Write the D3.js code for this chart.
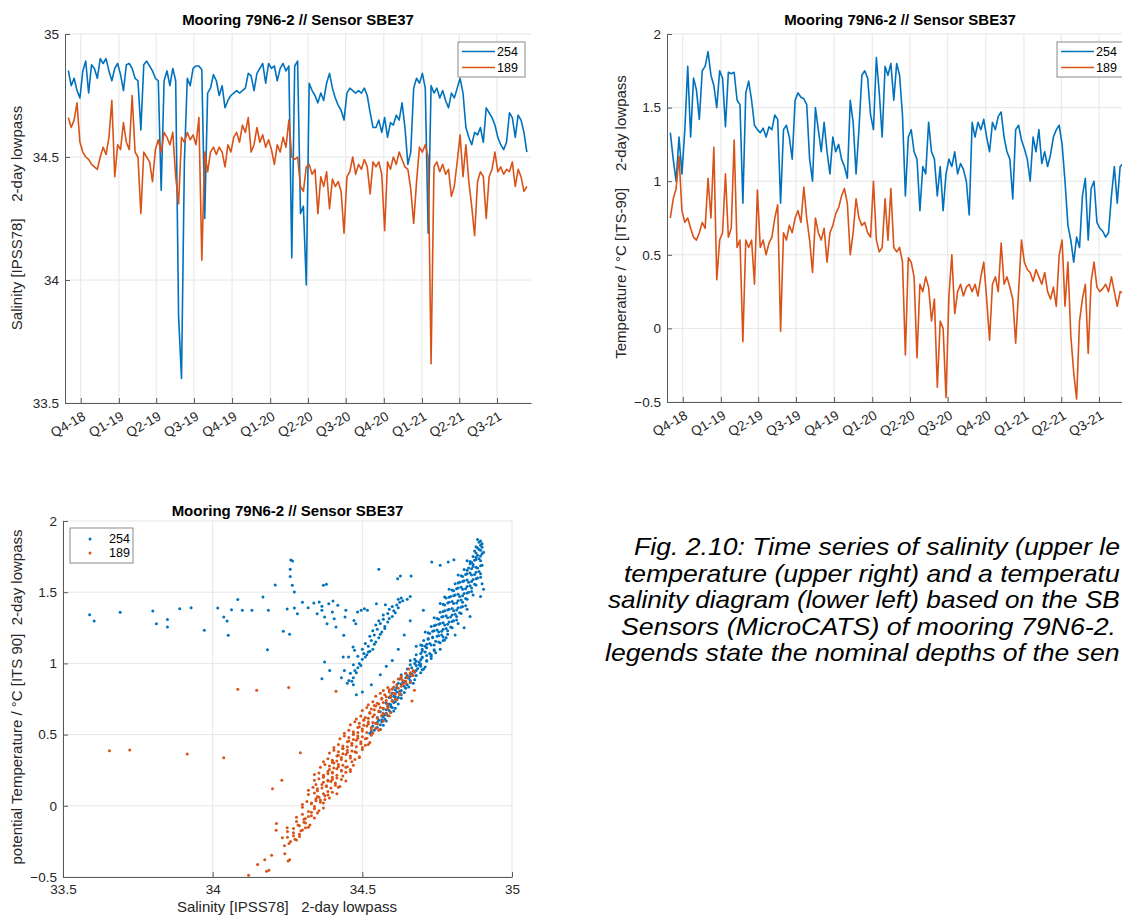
<!DOCTYPE html>
<html><head><meta charset="utf-8">
<script src="https://cdn.jsdelivr.net/npm/d3@7"></script>
<style>
body{margin:0;background:#fff;}
svg{display:block;font-family:"Liberation Sans",Arial,Helvetica,sans-serif;}
</style></head><body>
<svg id="c" width="1122" height="915"></svg>
<script>
// ---------- DATA ----------
const seriesNames = ["254", "189"];
const quarterLabels = ["Q4-18","Q1-19","Q2-19","Q3-19","Q4-19","Q1-20","Q2-20","Q3-20","Q4-20","Q1-21","Q2-21","Q3-21"];
const quarterDates = ["2018-10-01","2019-01-01","2019-04-01","2019-07-01","2019-10-01","2020-01-01","2020-04-01","2020-07-01","2020-10-01","2021-01-01","2021-04-01","2021-07-01"];
const timeDomain = ["2018-08-24","2021-09-21"];
const sampleStart = "2018-09-01";   // weekly samples
const sampleStepDays = 7;

const sal254 = [34.851,34.79,34.82,34.77,34.74,34.85,34.89,34.76,34.875,34.86,34.82,34.90,34.88,34.90,34.85,34.81,34.86,34.88,34.835,34.77,34.875,34.88,34.86,34.82,34.81,34.61,34.875,34.89,34.87,34.85,34.82,34.81,34.365,34.81,34.85,34.79,34.86,34.81,33.85,33.6,34.485,34.82,34.79,34.86,34.87,34.87,34.855,34.25,34.76,34.78,34.835,34.81,34.75,
34.79,34.70,34.73,34.75,34.76,34.77,34.76,34.77,34.78,34.84,34.83,34.77,34.84,34.86,34.88,34.80,34.88,34.86,34.87,34.81,34.86,34.88,34.85,34.87,34.09,34.87,34.89,34.27,34.30,33.98,34.80,34.77,34.75,34.72,34.76,34.73,34.80,34.84,34.78,34.74,34.71,34.69,34.65,34.76,34.78,34.77,34.76,34.77,34.76,34.78,34.75,34.68,34.62,
34.62,34.65,34.60,34.66,34.58,34.64,34.63,34.67,34.65,34.72,34.62,34.47,34.52,34.78,34.82,34.80,34.84,34.78,34.19,34.79,34.76,34.78,34.74,34.77,34.73,34.70,34.76,34.74,34.78,34.82,34.76,34.62,34.58,34.55,34.60,34.59,34.62,34.56,34.70,34.68,34.66,34.63,34.58,34.55,34.53,34.56,34.68,34.66,34.58,34.67,34.65,34.60,34.52];
const sal189 = [34.66,34.62,34.65,34.72,34.56,34.52,34.50,34.49,34.47,34.46,34.45,34.50,34.54,34.51,34.58,34.73,34.42,34.55,34.53,34.64,34.56,34.53,34.75,34.52,34.50,34.27,34.52,34.50,34.48,34.40,34.53,34.57,34.52,34.60,34.58,34.55,34.60,34.42,34.31,34.58,34.56,34.60,34.57,34.59,34.55,34.66,34.08,34.52,34.44,34.52,34.54,34.51,34.54,
34.52,34.46,34.55,34.52,34.58,34.60,34.56,34.63,34.60,34.66,34.52,34.55,34.62,34.56,34.59,34.54,34.57,34.53,34.47,34.55,34.52,34.58,34.54,34.65,34.50,34.49,34.50,34.38,34.36,34.46,34.47,34.43,34.45,34.27,34.42,34.38,34.44,34.29,34.41,34.38,34.40,34.36,34.19,34.42,34.44,34.50,34.43,34.47,34.45,34.49,34.46,34.35,34.48,
34.46,34.48,34.43,34.20,34.48,34.45,34.50,34.47,34.52,34.49,34.46,34.45,34.37,34.23,34.40,34.54,34.52,34.55,34.50,33.66,34.46,34.48,34.44,34.47,34.43,34.45,34.34,34.38,34.48,34.59,34.42,34.55,34.40,34.30,34.18,34.40,34.44,34.42,34.25,34.42,34.45,34.52,34.44,34.46,34.43,34.45,34.44,34.48,34.38,34.45,34.42,34.36,34.38];
const temp254 = [1.33,1.15,1.00,1.30,1.05,1.35,1.78,1.30,1.70,1.62,1.42,1.75,1.78,1.88,1.72,1.65,1.50,1.75,1.70,1.37,1.74,1.73,1.74,1.55,1.52,0.85,1.60,1.68,1.55,1.38,1.35,1.33,1.36,1.30,1.37,1.35,1.45,1.42,0.85,1.35,1.38,1.30,1.15,1.55,1.60,1.57,1.56,1.52,1.15,1.00,1.50,1.35,
1.20,1.40,1.20,1.05,1.30,1.20,1.25,1.15,1.10,1.02,1.55,1.40,1.05,1.35,1.72,1.75,1.70,1.45,1.35,1.84,1.60,1.30,1.78,1.72,1.80,1.55,1.80,1.72,1.45,0.90,1.30,1.35,1.20,1.15,0.80,1.10,1.05,1.40,1.20,1.15,0.90,1.10,0.80,1.05,1.15,1.10,1.20,1.05,1.12,1.08,1.00,0.77,1.40,
1.30,1.40,1.35,1.42,1.30,1.20,1.40,1.35,1.44,1.47,1.30,1.20,1.15,0.88,1.35,1.38,1.28,1.22,1.15,1.00,1.30,1.20,1.35,1.12,1.20,1.10,1.18,1.30,1.35,1.38,1.25,1.00,0.70,0.60,0.45,0.62,0.55,0.90,1.02,0.60,0.95,1.00,0.72,0.68,0.66,0.62,0.65,0.90,1.10,0.85,1.10,1.12,1.05,1.00];
const temp189 = [0.75,0.88,0.95,1.17,0.80,0.72,0.75,0.68,0.62,0.60,0.65,0.72,0.68,1.02,0.75,1.23,0.33,0.60,0.65,1.05,0.62,0.68,1.28,0.55,0.60,-0.09,0.60,0.55,0.60,0.30,0.94,0.55,0.60,0.50,0.58,0.62,0.75,0.84,-0.02,0.65,0.60,0.70,0.65,0.75,0.80,0.72,0.96,0.75,0.60,0.38,0.75,0.65,
0.60,0.68,0.45,0.65,0.70,0.78,0.82,0.90,0.95,0.85,0.50,0.65,0.88,0.75,0.70,0.72,0.65,0.62,1.00,0.60,0.52,0.55,0.88,0.60,0.95,0.55,0.52,0.55,0.45,-0.18,0.48,0.45,0.35,-0.20,0.30,0.25,0.35,0.28,0.05,0.20,-0.40,0.05,0.00,-0.47,0.22,0.50,0.10,0.25,0.30,0.22,0.28,0.30,0.25,
0.30,0.22,0.35,0.45,0.20,-0.08,0.30,0.35,0.25,0.58,0.30,0.35,0.28,0.20,-0.10,0.25,0.60,0.45,0.40,0.38,0.32,0.40,0.35,0.30,0.38,0.25,0.20,0.28,0.15,0.50,0.60,0.15,0.45,-0.05,-0.30,-0.48,0.05,0.20,0.30,-0.17,0.32,0.45,0.28,0.25,0.27,0.30,0.25,0.35,0.25,0.15,0.25,0.24,0.26,0.22];

const salTicks = [33.5, 34, 34.5, 35];
const tempTicks = [-0.5, 0, 0.5, 1, 1.5, 2];

// T-S scatter points [salinity, potential temperature]
const ts254 = [
[34.525,0.51],[34.54,0.53],[34.535,0.56],[34.55,0.55],[34.545,0.58],[34.56,0.57],[34.555,0.60],[34.565,0.59],
[34.55,0.62],[34.565,0.63],[34.575,0.61],[34.56,0.66],[34.58,0.65],[34.57,0.68],[34.59,0.67],[34.60,0.69],[34.585,0.70],[34.575,0.64],
[34.58,0.72],[34.595,0.71],[34.60,0.74],[34.61,0.73],[34.59,0.76],[34.605,0.77],[34.62,0.76],[34.60,0.79],[34.615,0.80],[34.63,0.78],
[34.60,0.82],[34.615,0.83],[34.63,0.81],[34.64,0.84],[34.62,0.86],[34.635,0.87],[34.65,0.85],[34.625,0.89],[34.645,0.90],[34.66,0.88],[34.67,0.86],
[34.63,0.92],[34.645,0.93],[34.66,0.91],[34.675,0.94],[34.65,0.96],[34.665,0.97],[34.68,0.95],[34.695,0.98],[34.66,0.99],[34.675,1.00],[34.69,0.99],[34.705,0.96],
[34.66,1.02],[34.675,1.03],[34.69,1.01],[34.70,1.04],[34.715,1.02],[34.73,1.05],[34.68,1.06],[34.695,1.07],[34.71,1.08],[34.725,1.07],[34.74,1.09],[34.70,1.10],[34.715,1.11],
[34.68,1.12],[34.695,1.13],[34.71,1.12],[34.725,1.14],[34.74,1.13],[34.755,1.15],[34.77,1.16],[34.705,1.16],[34.72,1.17],[34.735,1.18],[34.75,1.19],[34.765,1.20],[34.78,1.18],
[34.71,1.22],[34.725,1.21],[34.74,1.23],[34.755,1.22],[34.77,1.24],[34.785,1.23],[34.80,1.25],[34.73,1.26],[34.745,1.27],[34.76,1.28],[34.775,1.27],[34.79,1.29],[34.805,1.30],[34.82,1.28],
[34.74,1.32],[34.755,1.31],[34.77,1.33],[34.785,1.32],[34.80,1.34],[34.815,1.33],[34.83,1.35],[34.76,1.36],[34.775,1.37],[34.79,1.38],[34.805,1.37],[34.82,1.39],[34.835,1.40],[34.85,1.38],
[34.76,1.42],[34.775,1.41],[34.79,1.43],[34.805,1.42],[34.82,1.44],[34.835,1.43],[34.85,1.45],[34.78,1.46],[34.795,1.47],[34.81,1.48],[34.825,1.47],[34.84,1.49],[34.855,1.50],[34.87,1.48],
[34.79,1.52],[34.805,1.51],[34.82,1.53],[34.835,1.52],[34.85,1.54],[34.865,1.53],[34.88,1.55],[34.81,1.56],[34.825,1.57],[34.84,1.58],[34.855,1.57],[34.87,1.59],[34.885,1.60],[34.90,1.56],
[34.82,1.62],[34.835,1.61],[34.85,1.63],[34.865,1.62],[34.88,1.64],[34.895,1.63],[34.84,1.66],[34.855,1.67],[34.87,1.68],[34.885,1.67],[34.90,1.69],[34.86,1.70],
[34.85,1.72],[34.865,1.71],[34.88,1.73],[34.895,1.72],[34.87,1.75],[34.885,1.76],[34.90,1.77],[34.875,1.79],[34.89,1.80],[34.905,1.78],
[34.88,1.82],[34.895,1.83],[34.89,1.85],[34.885,1.87],[34.90,1.84],[34.905,1.52],[34.895,1.47],[34.84,1.25],[34.86,1.33],[34.81,1.20],
[34.53,0.52],[34.545,0.545],[34.56,0.535],[34.57,0.565],[34.55,0.585],[34.565,0.605],[34.58,0.595],
[34.57,0.625],[34.585,0.635],[34.595,0.655],[34.58,0.675],[34.605,0.665],[34.595,0.695],[34.61,0.685],
[34.59,0.715],[34.605,0.725],[34.62,0.715],[34.615,0.745],[34.63,0.755],[34.61,0.765],[34.625,0.785],[34.64,0.795],
[34.61,0.815],[34.625,0.805],[34.645,0.825],[34.655,0.835],[34.63,0.855],[34.66,0.865],[34.64,0.875],[34.655,0.895],[34.675,0.885],
[34.65,0.915],[34.665,0.925],[34.68,0.915],[34.695,0.935],[34.67,0.945],[34.70,0.955],[34.685,0.965],[34.71,0.975],[34.68,0.985],[34.695,0.995],
[34.68,1.015],[34.695,1.025],[34.715,1.015],[34.73,1.035],[34.70,1.045],[34.715,1.055],[34.73,1.06],[34.745,1.075],[34.70,1.085],[34.74,1.095],[34.76,1.10],
[34.70,1.125],[34.715,1.135],[34.73,1.13],[34.745,1.155],[34.76,1.145],[34.775,1.165],[34.72,1.175],[34.735,1.185],[34.755,1.195],[34.77,1.185],[34.785,1.205],
[34.72,1.215],[34.735,1.225],[34.75,1.235],[34.765,1.225],[34.78,1.245],[34.795,1.255],[34.74,1.265],[34.755,1.275],[34.77,1.285],[34.785,1.275],[34.80,1.295],[34.815,1.305],
[34.75,1.315],[34.765,1.325],[34.78,1.335],[34.795,1.325],[34.81,1.345],[34.825,1.355],[34.77,1.365],[34.785,1.375],[34.80,1.385],[34.815,1.375],[34.83,1.395],[34.845,1.405],
[34.77,1.415],[34.785,1.425],[34.80,1.435],[34.815,1.425],[34.83,1.445],[34.845,1.455],[34.79,1.465],[34.805,1.475],[34.82,1.485],[34.835,1.475],[34.85,1.495],[34.865,1.505],
[34.80,1.515],[34.815,1.525],[34.83,1.535],[34.845,1.525],[34.86,1.545],[34.875,1.555],[34.82,1.565],[34.835,1.575],[34.85,1.585],[34.865,1.575],[34.88,1.595],[34.895,1.605],
[34.83,1.615],[34.845,1.625],[34.86,1.635],[34.875,1.625],[34.89,1.645],[34.85,1.655],[34.865,1.665],[34.88,1.675],[34.895,1.685],[34.87,1.695],
[34.86,1.715],[34.875,1.725],[34.89,1.735],[34.88,1.745],[34.895,1.755],[34.88,1.775],[34.895,1.795],[34.885,1.81],[34.90,1.815],[34.895,1.86],
[34.45,0.86],[34.455,0.88],[34.47,0.90],[34.46,0.93],[34.475,0.95],[34.485,0.97],[34.47,0.99],[34.49,1.00],[34.50,1.03],[34.485,1.05],[34.505,1.07],[34.515,1.06],[34.50,1.10],[34.52,1.12],[34.535,1.10],[34.51,1.14],[34.53,1.16],[34.545,1.15],[34.525,1.19],[34.54,1.20],[34.555,1.18],[34.535,1.23],[34.55,1.24],[34.565,1.22],[34.545,1.27],[34.56,1.28],[34.575,1.26],[34.555,1.30],[34.57,1.31],[34.585,1.29],[34.57,1.34],[34.585,1.35],[34.60,1.33],[34.59,1.38],[34.605,1.37],[34.60,1.40],[34.615,1.41],[34.625,1.43],[34.62,1.45],[34.635,1.44],[34.63,1.46],[34.65,1.45],[34.66,1.47],
[34.465,0.875],[34.48,0.935],[34.495,0.985],[34.51,1.045],[34.525,1.085],[34.54,1.135],[34.56,1.205],[34.575,1.245],[34.59,1.315],[34.61,1.355],[34.62,1.39],
[34.62,1.10],[34.64,1.20],[34.60,1.02],[34.66,1.30],[34.58,0.98],[34.56,0.92],[34.53,0.85],[34.50,0.80],[34.48,0.78],[34.43,0.90],[34.44,0.95],[34.52,1.08],[34.47,0.85],
[33.589,1.342],[33.604,1.298],[33.691,1.359],[33.80,1.368],[33.812,1.279],[33.849,1.309],[33.849,1.256],[33.890,1.384],[33.928,1.391],[33.972,1.232],[34.017,1.389],[34.037,1.326],[34.048,1.298],[34.052,1.197],[34.063,1.377],[34.084,1.448],[34.099,1.373],[34.131,1.373],[34.168,1.466],[34.183,1.096],[34.186,1.373],[34.209,1.551],[34.236,1.225],[34.249,1.382],[34.257,1.204],[34.259,1.661],[34.261,1.726],[34.267,1.719],[34.259,1.611],[34.266,1.548],[34.273,1.501],[34.273,1.389],[34.283,1.349],[34.300,1.429],[34.319,1.391],[34.338,1.424],[34.349,1.349],[34.356,1.431],[34.365,1.401],[34.370,1.548],[34.380,1.555],[34.365,1.373],[34.374,1.326],[34.382,1.279],[34.388,1.419],[34.402,1.438],[34.406,1.314],[34.412,1.256],[34.418,1.408],[34.400,1.361],[34.374,1.010],[34.365,0.893],[34.391,0.951],[34.438,1.197],[34.442,1.326],[34.445,1.373],[34.436,1.045],[34.454,1.045],[34.469,1.115],[34.474,1.092],[34.478,1.279],[34.484,1.361],[34.496,1.373],[34.507,1.384],[34.517,1.373],[34.472,1.302],[34.555,1.661],[34.547,1.419],[34.577,1.412],[34.618,1.595],[34.627,1.614],[34.663,1.614],[34.732,1.712],[34.760,1.689],[34.787,1.712],[34.806,1.728],[34.704,1.373],[34.775,1.466]
];
const ts189 = [
[34.24,-0.28],[34.26,-0.25],[34.25,-0.22],[34.27,-0.21],[34.28,-0.24],[34.29,-0.20],
[34.25,-0.18],[34.27,-0.16],[34.29,-0.14],[34.30,-0.17],[34.31,-0.12],[34.28,-0.11],[34.32,-0.15],
[34.28,-0.08],[34.30,-0.06],[34.31,-0.09],[34.32,-0.04],[34.33,-0.07],[34.34,-0.02],[34.30,-0.01],[34.35,-0.05],
[34.30,0.01],[34.315,0.03],[34.33,0.02],[34.345,0.05],[34.36,0.04],[34.375,0.07],[34.32,0.08],[34.34,0.09],[34.355,0.06],[34.385,0.10],[34.37,0.02],
[34.32,0.11],[34.335,0.13],[34.35,0.12],[34.365,0.15],[34.38,0.14],[34.395,0.17],[34.41,0.16],[34.34,0.18],[34.355,0.19],[34.37,0.20],[34.385,0.18],[34.40,0.20],[34.42,0.13],[34.345,0.15],
[34.34,0.22],[34.355,0.23],[34.37,0.21],[34.385,0.24],[34.40,0.23],[34.415,0.26],[34.43,0.25],[34.445,0.27],[34.36,0.27],[34.375,0.29],[34.39,0.28],[34.405,0.30],[34.42,0.29],[34.46,0.24],[34.435,0.21],
[34.37,0.31],[34.385,0.33],[34.40,0.32],[34.415,0.35],[34.43,0.34],[34.445,0.36],[34.46,0.35],[34.475,0.38],[34.39,0.37],[34.405,0.39],[34.42,0.38],[34.435,0.40],[34.45,0.39],[34.49,0.34],[34.465,0.31],
[34.405,0.41],[34.42,0.43],[34.435,0.42],[34.45,0.45],[34.465,0.44],[34.48,0.46],[34.495,0.45],[34.51,0.47],[34.425,0.47],[34.44,0.49],[34.455,0.48],[34.47,0.50],[34.485,0.49],[34.52,0.43],[34.50,0.41],
[34.44,0.51],[34.455,0.53],[34.47,0.52],[34.485,0.55],[34.50,0.54],[34.515,0.56],[34.53,0.55],[34.545,0.58],[34.46,0.57],[34.475,0.59],[34.49,0.58],[34.505,0.60],[34.52,0.59],[34.555,0.53],[34.535,0.51],
[34.48,0.61],[34.495,0.63],[34.51,0.62],[34.525,0.65],[34.54,0.64],[34.555,0.66],[34.57,0.65],[34.585,0.68],[34.50,0.67],[34.515,0.69],[34.53,0.68],[34.545,0.70],[34.56,0.69],[34.59,0.63],
[34.52,0.71],[34.535,0.73],[34.55,0.72],[34.565,0.75],[34.58,0.74],[34.595,0.76],[34.61,0.75],[34.625,0.78],[34.545,0.77],[34.56,0.79],[34.575,0.78],[34.59,0.80],[34.605,0.79],
[34.57,0.81],[34.585,0.83],[34.60,0.82],[34.615,0.85],[34.63,0.84],[34.645,0.86],[34.605,0.87],[34.62,0.89],[34.635,0.88],[34.65,0.90],[34.66,0.87],
[34.63,0.91],[34.645,0.93],[34.66,0.92],[34.67,0.95],[34.655,0.96],[34.675,0.94],
[34.255,-0.265],[34.275,-0.235],[34.29,-0.215],[34.27,-0.19],[34.295,-0.175],[34.31,-0.155],[34.285,-0.135],[34.305,-0.115],[34.325,-0.135],
[34.305,-0.095],[34.32,-0.075],[34.34,-0.085],[34.33,-0.045],[34.355,-0.035],[34.37,-0.015],[34.34,-0.005],
[34.33,0.015],[34.345,0.035],[34.36,0.025],[34.375,0.045],[34.39,0.055],[34.35,0.065],[34.37,0.085],[34.385,0.075],[34.40,0.095],[34.415,0.085],
[34.35,0.105],[34.365,0.125],[34.38,0.135],[34.395,0.125],[34.41,0.145],[34.425,0.135],[34.37,0.165],[34.385,0.175],[34.40,0.185],[34.415,0.195],[34.43,0.185],[34.445,0.175],
[34.37,0.215],[34.385,0.225],[34.40,0.235],[34.415,0.215],[34.43,0.245],[34.445,0.235],[34.46,0.255],[34.39,0.255],[34.405,0.265],[34.42,0.275],[34.435,0.285],[34.45,0.275],[34.47,0.285],
[34.40,0.305],[34.415,0.315],[34.43,0.325],[34.445,0.315],[34.46,0.335],[34.475,0.325],[34.49,0.345],[34.42,0.355],[34.435,0.365],[34.45,0.375],[34.465,0.385],[34.48,0.375],[34.50,0.395],
[34.435,0.405],[34.45,0.415],[34.465,0.425],[34.48,0.415],[34.495,0.435],[34.51,0.425],[34.525,0.445],[34.455,0.455],[34.47,0.465],[34.485,0.475],[34.50,0.485],[34.515,0.475],[34.53,0.495],
[34.47,0.505],[34.485,0.515],[34.50,0.525],[34.515,0.515],[34.53,0.535],[34.545,0.545],[34.56,0.535],[34.49,0.555],[34.505,0.565],[34.52,0.575],[34.535,0.585],[34.55,0.575],[34.57,0.595],
[34.505,0.605],[34.52,0.615],[34.535,0.625],[34.55,0.615],[34.565,0.635],[34.58,0.645],[34.595,0.655],[34.525,0.655],[34.54,0.675],[34.555,0.665],[34.57,0.685],[34.585,0.695],
[34.54,0.705],[34.555,0.715],[34.57,0.725],[34.585,0.715],[34.60,0.735],[34.615,0.745],[34.565,0.755],[34.58,0.765],[34.595,0.775],[34.61,0.785],[34.625,0.795],
[34.59,0.815],[34.605,0.835],[34.62,0.825],[34.635,0.855],[34.645,0.875],[34.63,0.895],[34.65,0.905],[34.66,0.935],[34.67,0.915],
[33.655,0.387],[33.723,0.392],[33.915,0.364],[34.037,0.338],[34.084,0.818],[34.147,0.811],[34.254,0.830],[34.412,0.804],[34.293,0.373],[34.200,0.120],[34.231,0.179],[34.120,-0.488],[34.150,-0.413],[34.174,-0.378],[34.180,-0.460],[34.188,-0.453],[34.197,-0.348],[34.213,-0.125],[34.212,-0.172],[34.233,-0.224],[34.241,-0.336],[34.249,-0.154],[34.252,-0.388],[34.257,-0.378],[34.666,0.736],[34.674,0.811]
];

// caption as far as it is visible in the reference (the page crops it at the right edge)
const captionLines = [
  "Fig. 2.10: Time series of salinity (upper le",
  "temperature (upper right) and a temperatu",
  "salinity diagram (lower left) based on the SB",
  "Sensors (MicroCATS) of mooring 79N6-2.",
  "legends state the nominal depths of the sen"
];

// ---------- DRAWING ----------
const colors = {"254": "#0072BD", "189": "#D95319"};
const axisCol = "#5a5a5a", textCol = "#262626", gridCol = "#e6e6e6";
const svg = d3.select("#c");
const parse = d3.timeParse("%Y-%m-%d");
const t0 = parse(sampleStart);
const sampleDates = sal254.map((_, i) => d3.timeDay.offset(t0, i * sampleStepDays));

function styleAxis(g) {
  g.select(".domain").attr("stroke", axisCol).attr("stroke-width", 1);
  g.selectAll(".tick line").attr("stroke", axisCol).attr("stroke-width", 1);
  g.selectAll(".tick text").attr("fill", textCol).style("font-size", "13.5px");
}
function title(x, y, txt) {
  svg.append("text").attr("x", x).attr("y", y).attr("text-anchor", "middle")
    .style("font-weight", "bold").style("font-size", "15px").attr("fill", "#000").text(txt);
}
function yLabel(x, y, txt) {
  svg.append("text").attr("transform", `translate(${x},${y}) rotate(-90)`)
    .attr("text-anchor", "middle").style("font-size", "15px").style("white-space", "pre")
    .attr("fill", textCol).text(txt);
}

function timePanel(cfg) {
  const x = d3.scaleTime().domain(timeDomain.map(parse)).range([cfg.x0, cfg.x1]);
  const y = d3.scaleLinear().domain(cfg.yDomain).range([cfg.y1, cfg.y0]);
  const g = svg.append("g");
  const qd = quarterDates.map(parse);
  g.selectAll(".vg").data(qd).join("line")
    .attr("x1", d => x(d)).attr("x2", d => x(d)).attr("y1", cfg.y0).attr("y2", cfg.y1)
    .attr("stroke", gridCol);
  g.selectAll(".hg").data(cfg.yTicks).join("line")
    .attr("x1", cfg.x0).attr("x2", cfg.x1).attr("y1", d => y(d)).attr("y2", d => y(d))
    .attr("stroke", gridCol);
  const line = d3.line().x((d, i) => x(sampleDates[i])).y(d => y(d));
  [[cfg.s254, "254"], [cfg.s189, "189"]].forEach(([s, k]) => {
    g.append("path").datum(s).attr("d", line).attr("fill", "none")
      .attr("stroke", colors[k]).attr("stroke-width", 1.6).attr("stroke-linejoin", "round");
  });
  const xa = g.append("g").attr("transform", `translate(0,${cfg.y1})`)
    .call(d3.axisBottom(x).tickValues(qd).tickSize(-5).tickSizeOuter(0)
      .tickFormat((d, i) => quarterLabels[i]));
  styleAxis(xa);
  xa.selectAll(".tick text").attr("y", null).attr("dy", "0.35em")
    .attr("text-anchor", "end").attr("transform", "translate(3,12) rotate(-30)");
  const ya = g.append("g").attr("transform", `translate(${cfg.x0},0)`)
    .call(d3.axisLeft(y).tickValues(cfg.yTicks).tickSize(-5).tickSizeOuter(0).tickPadding(6)
      .tickFormat(d3.format("")));
  styleAxis(ya);
  const lg = g.append("g").attr("transform", `translate(${cfg.legX},${cfg.legY})`);
  lg.append("rect").attr("width", 67).attr("height", 35).attr("fill", "#fff")
    .attr("stroke", "#8a8a8a").attr("stroke-width", 1);
  seriesNames.forEach((k, i) => {
    lg.append("line").attr("x1", 4).attr("x2", 37).attr("y1", 9.5 + i * 16).attr("y2", 9.5 + i * 16)
      .attr("stroke", colors[k]).attr("stroke-width", 1.6);
    lg.append("text").attr("x", 39).attr("y", 9.5 + i * 16).attr("dy", "0.35em")
      .style("font-size", "12.5px").attr("fill", "#000").text(k);
  });
}

timePanel({x0: 65, x1: 531, y0: 34, y1: 403, yDomain: [33.5, 35], yTicks: salTicks,
  s254: sal254, s189: sal189, legX: 458, legY: 42});
title(298, 25, "Mooring 79N6-2 // Sensor SBE37");
yLabel(22, 218, "Salinity [IPSS78]    2-day lowpass");

timePanel({x0: 667, x1: 1133, y0: 34, y1: 402, yDomain: [-0.5, 2], yTicks: tempTicks,
  s254: temp254, s189: temp189, legX: 1057, legY: 42});
title(900, 25, "Mooring 79N6-2 // Sensor SBE37");
yLabel(626, 217, "Temperature / \u00B0C [ITS-90]    2-day lowpass");

(function () {
  const x0 = 63, x1 = 512, y0 = 521, y1 = 877;
  const x = d3.scaleLinear().domain([33.5, 35]).range([x0, x1]);
  const y = d3.scaleLinear().domain([-0.5, 2]).range([y1, y0]);
  const g = svg.append("g");
  g.selectAll(".vg").data(salTicks).join("line")
    .attr("x1", d => x(d)).attr("x2", d => x(d)).attr("y1", y0).attr("y2", y1).attr("stroke", gridCol);
  g.selectAll(".hg").data(tempTicks).join("line")
    .attr("x1", x0).attr("x2", x1).attr("y1", d => y(d)).attr("y2", d => y(d)).attr("stroke", gridCol);
  [[ts254, "254"], [ts189, "189"]].forEach(([pts, k]) => {
    g.append("g").selectAll("circle").data(pts).join("circle")
      .attr("cx", d => x(d[0])).attr("cy", d => y(d[1])).attr("r", 1.5).attr("fill", colors[k]);
  });
  const xa = g.append("g").attr("transform", `translate(0,${y1})`)
    .call(d3.axisBottom(x).tickValues(salTicks).tickSize(-5).tickSizeOuter(0).tickPadding(7).tickFormat(d3.format("")));
  styleAxis(xa);
  const ya = g.append("g").attr("transform", `translate(${x0},0)`)
    .call(d3.axisLeft(y).tickValues(tempTicks).tickSize(-5).tickSizeOuter(0).tickPadding(6).tickFormat(d3.format("")));
  styleAxis(ya);
  const lg = g.append("g").attr("transform", "translate(70,528)");
  lg.append("rect").attr("width", 63).attr("height", 35).attr("fill", "#fff").attr("stroke", "#8a8a8a");
  seriesNames.forEach((k, i) => {
    lg.append("circle").attr("cx", 20).attr("cy", 11 + i * 14).attr("r", 1.5).attr("fill", colors[k]);
    lg.append("text").attr("x", 39).attr("y", 11 + i * 14).attr("dy", "0.35em")
      .style("font-size", "12.5px").attr("fill", "#000").text(k);
  });
  title(287.5, 516, "Mooring 79N6-2 // Sensor SBE37");
  yLabel(22, 697, "potential Temperature / \u00B0C [ITS 90]  2-day lowpass");
  svg.append("text").attr("x", 287).attr("y", 912).attr("text-anchor", "middle")
    .style("font-size", "15px").style("white-space", "pre").attr("fill", textCol)
    .text("Salinity [IPSS78]   2-day lowpass");
})();

// caption: italic, slightly wide; each line kept inside the page
const captionX = [634, 624, 608, 621, 605];
const capSel = svg.append("g").selectAll("text").data(captionLines).join("text")
  .style("font-style", "italic").style("font-size", "23px").attr("fill", "#000")
  .text(d => d);
capSel.each(function (d, i) {
  const w = this.getComputedTextLength();
  const sx = Math.min(1.165, (1120 - captionX[i]) / w);
  d3.select(this).attr("transform", `translate(${captionX[i]},${555 + i * 26.5}) scale(${sx},1)`);
});
</script>
</body></html>
